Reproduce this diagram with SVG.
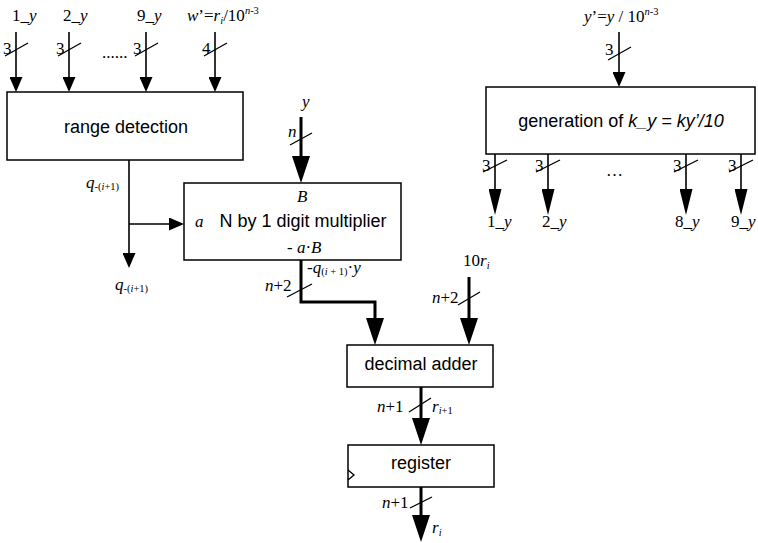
<svg xmlns="http://www.w3.org/2000/svg" width="758" height="543" viewBox="0 0 758 543">
  <style>
    .box { fill: #fff; stroke: #000; stroke-width: 1.5; }
    .thin { fill: none; stroke: #000; stroke-width: 1.6; }
    .thick { fill: none; stroke: #000; stroke-width: 3; }
    .slash { fill: none; stroke: #000; stroke-width: 1.3; }
    .lbl { font-family: "Liberation Serif", "Times New Roman", serif; font-size: 17px; fill: #000; }
    .it { font-style: italic; }
    .sub { font-size: 10.5px; }
    .name { font-family: "Liberation Sans", Arial, sans-serif; font-size: 18px; fill: #000; text-anchor: middle; }
  </style>
  <defs>
    <marker id="ah" markerUnits="userSpaceOnUse" markerWidth="15" markerHeight="13" viewBox="0 0 15 13" refX="8" refY="6.5" orient="auto">
      <path d="M0,0 L15,6.5 L0,13 z" fill="#000"/>
    </marker>
    <marker id="ahl" markerUnits="userSpaceOnUse" markerWidth="26" markerHeight="13" viewBox="0 0 26 13" refX="14" refY="6.5" orient="auto">
      <path d="M0,0 L26,6.5 L0,13 z" fill="#000"/>
    </marker>
    <marker id="ahk" markerUnits="userSpaceOnUse" markerWidth="27" markerHeight="18" viewBox="0 0 27 18" refX="14" refY="9" orient="auto">
      <path d="M0,0 L27,9 L0,18 z" fill="#000"/>
    </marker>
  </defs>

  <!-- nodes -->
  <g id="range-detection">
    <rect class="box" x="7" y="92" width="236" height="68"/>
    <text class="name" x="126" y="133">range detection</text>
  </g>

  <g id="generation">
    <rect class="box" x="486" y="87" width="269" height="67"/>
    <text class="name" x="621" y="127">generation of <tspan font-style="italic">k_y = ky’/10</tspan></text>
  </g>

  <g id="multiplier">
    <rect class="box" x="184" y="183" width="217" height="77"/>
    <text class="name" x="303" y="227">N by 1 digit multiplier</text>
    <text class="lbl it" x="297" y="202">B</text>
    <text class="lbl it" x="195" y="227">a</text>
    <text class="lbl" x="287" y="253">- <tspan class="it">a</tspan>·<tspan class="it">B</tspan></text>
  </g>

  <g id="decimal-adder">
    <rect class="box" x="347" y="345" width="146" height="42"/>
    <text class="name" x="421" y="370">decimal adder</text>
  </g>

  <g id="register">
    <rect class="box" x="348" y="445" width="146" height="42"/>
    <polyline class="slash" points="348,470 354,475 348,480"/>
    <text class="name" x="421" y="469">register</text>
  </g>

  <!-- connectors -->
  <g id="connectors">
    <!-- inputs of range detection -->
    <line class="thin" x1="16" y1="32" x2="16" y2="85" marker-end="url(#ah)"/>
    <line class="thin" x1="69" y1="32" x2="69" y2="85" marker-end="url(#ah)"/>
    <line class="thin" x1="146" y1="32" x2="146" y2="85" marker-end="url(#ah)"/>
    <line class="thin" x1="215" y1="32" x2="215" y2="85" marker-end="url(#ah)"/>
    <line class="slash" x1="5" y1="56" x2="28" y2="43"/>
    <line class="slash" x1="58" y1="56" x2="81" y2="43"/>
    <line class="slash" x1="135" y1="56" x2="158" y2="43"/>
    <line class="slash" x1="204" y1="56" x2="227" y2="43"/>

    <!-- input of generation -->
    <line class="thin" x1="619" y1="32" x2="619" y2="80" marker-end="url(#ah)"/>
    <line class="slash" x1="608" y1="60" x2="631" y2="47"/>

    <!-- outputs of generation -->
    <line class="thin" x1="495" y1="154" x2="495" y2="203" marker-end="url(#ahl)"/>
    <line class="thin" x1="548" y1="154" x2="548" y2="203" marker-end="url(#ahl)"/>
    <line class="thin" x1="686" y1="154" x2="686" y2="203" marker-end="url(#ahl)"/>
    <line class="thin" x1="741" y1="154" x2="741" y2="203" marker-end="url(#ahl)"/>
    <line class="slash" x1="483" y1="172" x2="507" y2="160"/>
    <line class="slash" x1="536" y1="172" x2="560" y2="160"/>
    <line class="slash" x1="674" y1="172" x2="698" y2="160"/>
    <line class="slash" x1="729" y1="172" x2="753" y2="160"/>

    <!-- quotient digit -->
    <line class="thin" x1="129" y1="160" x2="129" y2="261" marker-end="url(#ah)"/>
    <line class="thin" x1="129" y1="224" x2="177" y2="224" marker-end="url(#ah)"/>

    <!-- y into multiplier -->
    <line class="thick" x1="301" y1="117" x2="301" y2="170" marker-end="url(#ahk)"/>
    <line class="slash" x1="290" y1="145" x2="312" y2="133"/>

    <!-- multiplier to adder -->
    <path class="thick" d="M301,260 V302 H375 V332" marker-end="url(#ahk)"/>
    <line class="slash" x1="287" y1="297" x2="312" y2="284"/>

    <!-- 10 r_i into adder -->
    <line class="thick" x1="469" y1="277" x2="469" y2="332" marker-end="url(#ahk)"/>
    <line class="slash" x1="458" y1="305" x2="480" y2="292"/>

    <!-- adder to register -->
    <line class="thick" x1="421" y1="387" x2="421" y2="432" marker-end="url(#ahk)"/>
    <line class="slash" x1="409" y1="412" x2="431" y2="398"/>

    <!-- register output -->
    <line class="thick" x1="421" y1="487" x2="421" y2="529" marker-end="url(#ahk)"/>
    <line class="slash" x1="410" y1="508" x2="432" y2="497"/>
  </g>

  <!-- signal labels -->
  <g id="labels">
    <text class="lbl" x="12" y="21">1_<tspan class="it">y</tspan></text>
    <text class="lbl" x="63" y="21">2_<tspan class="it">y</tspan></text>
    <text class="lbl" x="137" y="21">9_<tspan class="it">y</tspan></text>
    <text class="lbl" x="187" y="21"><tspan class="it">w</tspan>’=<tspan class="it">r</tspan><tspan class="sub it" dy="3">i</tspan><tspan dy="-3">/10</tspan><tspan class="sub" dy="-7"><tspan class="it">n</tspan>-3</tspan></text>

    <text class="lbl" x="3" y="54">3</text>
    <text class="lbl" x="56" y="54">3</text>
    <text class="lbl" x="133" y="54">3</text>
    <text class="lbl" x="202" y="54">4</text>
    <text class="lbl" x="102" y="58">......</text>

    <text class="lbl" x="584" y="22"><tspan class="it">y</tspan>’=<tspan class="it">y</tspan> / 10<tspan class="sub" dy="-7"><tspan class="it">n</tspan>-3</tspan></text>
    <text class="lbl" x="605" y="55">3</text>

    <text class="lbl" x="482" y="171">3</text>
    <text class="lbl" x="535" y="171">3</text>
    <text class="lbl" x="673" y="171">3</text>
    <text class="lbl" x="728" y="171">3</text>
    <text class="lbl" x="606" y="176" font-size="21">…</text>
    <text class="lbl" x="487" y="227">1_<tspan class="it">y</tspan></text>
    <text class="lbl" x="542" y="227">2_<tspan class="it">y</tspan></text>
    <text class="lbl" x="675" y="227">8_<tspan class="it">y</tspan></text>
    <text class="lbl" x="731" y="227">9_<tspan class="it">y</tspan></text>

    <text class="lbl" x="86" y="188"><tspan class="it">q</tspan><tspan class="sub" dy="2">-(<tspan class="it">i</tspan>+1)</tspan></text>
    <text class="lbl" x="115" y="290"><tspan class="it">q</tspan><tspan class="sub" dy="2">-(<tspan class="it">i</tspan>+1)</tspan></text>

    <text class="lbl it" x="302" y="107">y</text>
    <text class="lbl it" x="288" y="137">n</text>

    <text class="lbl" x="265" y="291"><tspan class="it">n</tspan>+2</text>
    <text class="lbl" x="307" y="273">-<tspan class="it">q</tspan><tspan class="sub" dy="2">(<tspan class="it">i</tspan> + 1)</tspan><tspan dy="-2">·<tspan class="it">y</tspan></tspan></text>

    <text class="lbl" x="463" y="266">10<tspan class="it">r</tspan><tspan class="sub it" dy="3">i</tspan></text>
    <text class="lbl" x="432" y="303"><tspan class="it">n</tspan>+2</text>

    <text class="lbl" x="377" y="412"><tspan class="it">n</tspan>+1</text>
    <text class="lbl" x="432" y="412"><tspan class="it">r</tspan><tspan class="sub" dy="2"><tspan class="it">i</tspan>+1</tspan></text>

    <text class="lbl" x="382" y="508"><tspan class="it">n</tspan>+1</text>
    <text class="lbl" x="432" y="533"><tspan class="it">r</tspan><tspan class="sub it" dy="3">i</tspan></text>
  </g>
</svg>
